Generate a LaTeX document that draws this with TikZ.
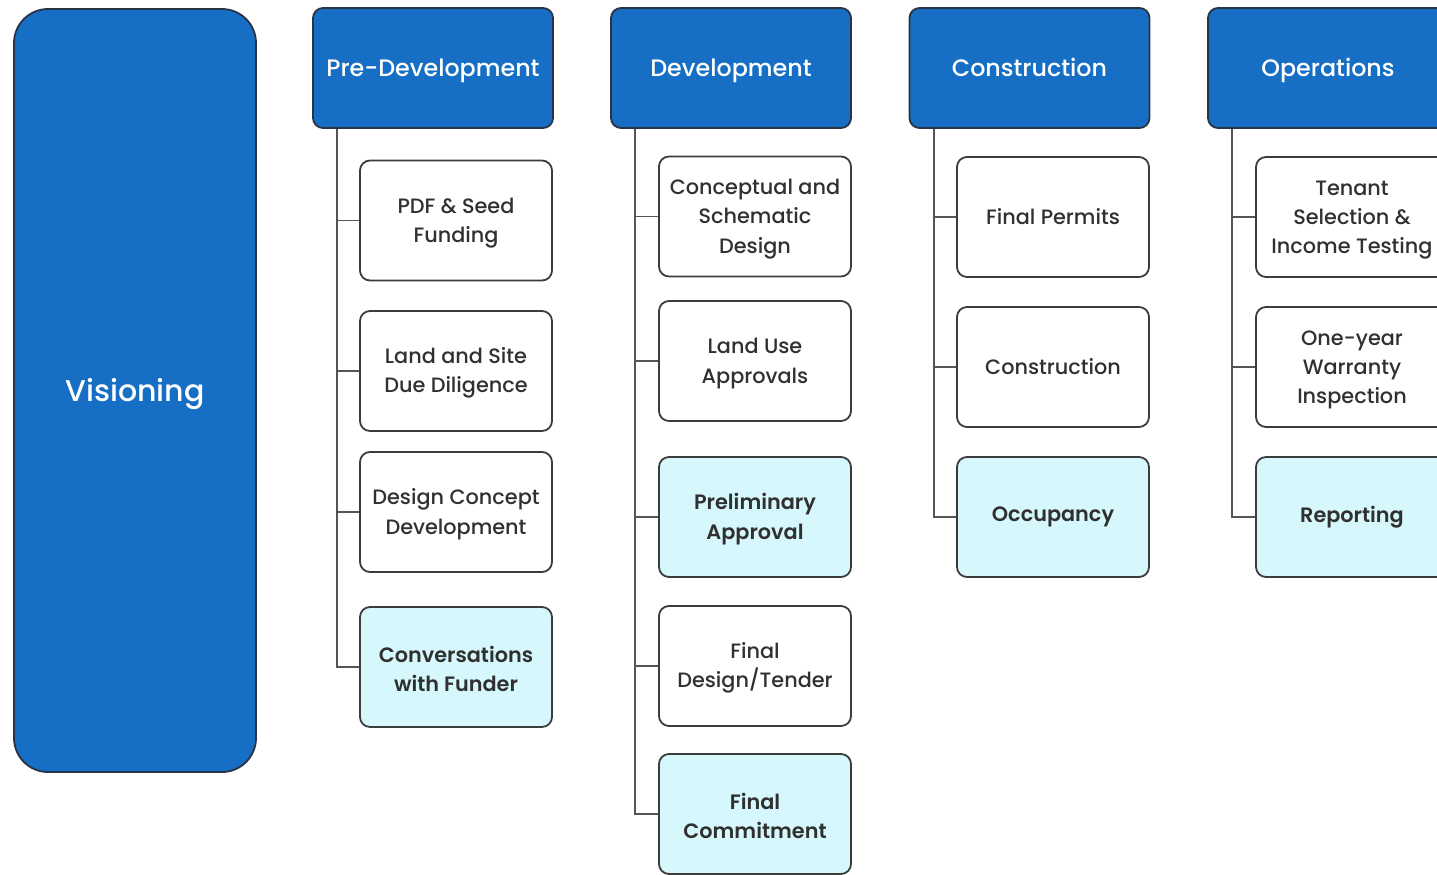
\documentclass[tikz,border=0pt]{standalone}
\usepackage{fontspec}
\setmainfont{Poppins}
\newfontfamily\medfont{Poppins}[UprightFont={* Medium}]
\newfontfamily\semifont{Poppins}[UprightFont={* SemiBold}]
\definecolor{phaseblue}{RGB}{22,111,196}
\definecolor{phaseedge}{RGB}{40,52,70}
\definecolor{taskedge}{RGB}{60,60,60}
\definecolor{keyfill}{RGB}{214,248,252}
\definecolor{tasktext}{RGB}{48,48,48}
\definecolor{linkgray}{RGB}{85,85,85}
% invisible strut for the first line of a multi-line label
\newcommand\toplift{\rule{0pt}{10.2pt}}
\begin{document}
\begin{tikzpicture}[x=0.5pt,y=-0.5pt,
  phase/.style={draw=phaseedge, line width=0.9pt, fill=phaseblue, text=white,
    rounded corners=5pt, minimum width=120pt, minimum height=60pt,
    inner sep=0pt, text height=8.8pt, text depth=0pt,
    font=\medfont\fontsize{11.9}{14}\selectfont},
  vision/.style={phase, rounded corners=17pt, minimum width=121pt,
    minimum height=381.5pt, text height=11pt,
    font=\medfont\fontsize{15}{18}\selectfont},
  task/.style={draw=taskedge, line width=0.9pt, fill=white, text=tasktext,
    rounded corners=5pt, minimum width=96pt, minimum height=60pt,
    inner sep=0pt, align=center, font=\medfont\fontsize{10.4}{14.6}\selectfont},
  keytask/.style={task, fill=keyfill, font=\semifont\fontsize{10.4}{14.6}\selectfont},
  link/.style={draw=linkgray, line width=0.9pt},
]
\useasboundingbox (0,0) rectangle (1437,874);
\clip (0,0) rectangle (1437,874);

% overall vision
\node[vision] (vis) at (135,390.5) {Visioning};

% phase headers
\node[phase] (pre)  at (433,68)   {Pre-Development};
\node[phase] (dev)  at (731,68)   {Development};
\node[phase] (con)  at (1029.5,68) {Construction};
\node[phase] (ops)  at (1328,68)  {Operations};

% pre-development tasks
\node[task]    (p1) at (456,220.5) {\toplift PDF \& Seed\\Funding};
\node[task]    (p2) at (456,371)   {\toplift Land and Site\\Due Diligence};
\node[task]    (p3) at (456,512)   {\toplift Design Concept\\Development};
\node[keytask] (p4) at (456,667)   {\toplift Conversations\\with Funder};

% development tasks
\node[task]    (d1) at (755,216.5) {\toplift Conceptual and\\Schematic\\Design};
\node[task]    (d2) at (755,361)   {\toplift Land Use\\Approvals};
\node[keytask] (d3) at (755,517)   {\toplift Preliminary\\Approval};
\node[task]    (d4) at (755,666)   {\toplift Final\\Design/Tender};
\node[keytask] (d5) at (755,814)   {\toplift Final\\Commitment};

% construction tasks
\node[task]    (c1) at (1053,217) {Final Permits};
\node[task]    (c2) at (1053,367) {Construction};
\node[keytask] (c3) at (1053,517) {Occupancy};

% operations tasks
\node[task]    (o1) at (1352,217) {\toplift Tenant\\Selection \&\\Income Testing};
\node[task]    (o2) at (1352,367) {\toplift One-year\\Warranty\\Inspection};
\node[keytask] (o3) at (1352,517) {Reporting};

% trunks and branches
\foreach \h/\last/\list in {pre/p4/{p1,p2,p3}, dev/d5/{d1,d2,d3,d4},
                            con/c3/{c1,c2}, ops/o3/{o1,o2}}{
  \coordinate (\h-trunk) at ([xshift=12.5pt]\h.south west);
  \draw[link] (\h-trunk) |- (\last.west);
  \foreach \t in \list{
    \draw[link] (\h-trunk |- \t.west) -- (\t.west);
  }
}
\end{tikzpicture}
\end{document}
